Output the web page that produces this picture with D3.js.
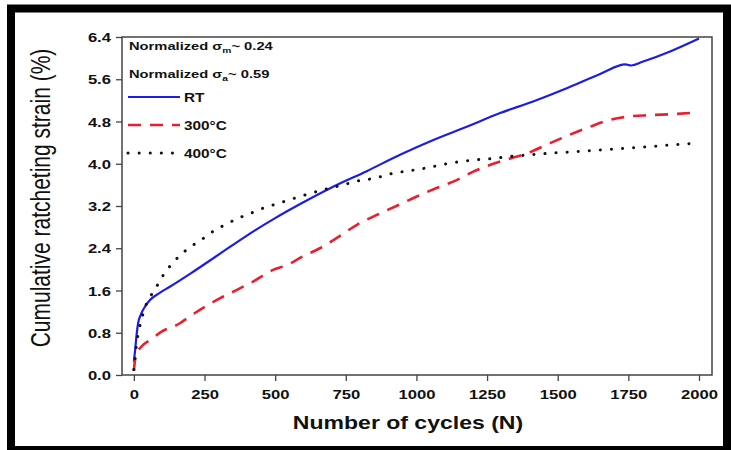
<!DOCTYPE html>
<html lang="en">
  <head>
    <meta charset="UTF-8" />
    <title>Cumulative ratcheting strain</title>
    <script src="https://d3js.org/d3.v7.min.js"></script>
    <style>
      body {
        margin: 0;
        background: #fff;
      }
      text {
        font-family: 'Liberation Sans', Arial, sans-serif;
      }
    </style>
  </head>
  <body>
    <div id="chart"></div>
    <script>
      // values: [cycles, strain %]
      const rtData = [
        [0, 0.25], [5, 0.5], [10, 0.78], [15, 0.98], [25, 1.15], [40, 1.3],
        [57, 1.42], [90, 1.55], [127, 1.67], [200, 1.92], [300, 2.28],
        [400, 2.64], [500, 2.97], [600, 3.27], [700, 3.55], [824, 3.86],
        [942, 4.17], [1060, 4.45], [1178, 4.7], [1296, 4.96], [1413, 5.18],
        [1532, 5.43], [1650, 5.7], [1740, 5.88], [1760, 5.86], [1800, 5.93],
        [1900, 6.13], [2000, 6.37],
      ];
      const t300Data = [
        [0, 0.08], [4, 0.28], [12, 0.42], [27, 0.54], [57, 0.66], [98, 0.82],
        [163, 0.98], [187, 1.07], [263, 1.33], [304, 1.45], [375, 1.64],
        [422, 1.77], [493, 1.99], [541, 2.08], [600, 2.25], [658, 2.4],
        [717, 2.59], [788, 2.84], [859, 3.03], [929, 3.2], [1001, 3.38],
        [1071, 3.54], [1142, 3.69], [1201, 3.85], [1272, 4.0], [1320, 4.08],
        [1402, 4.22], [1473, 4.39], [1543, 4.55], [1614, 4.7], [1685, 4.83],
        [1744, 4.89], [1827, 4.92], [1909, 4.94], [1991, 4.97],
      ];
      const t400Data = [
        [0, 0.1], [10, 0.6], [20, 0.9], [33, 1.17], [80, 1.67], [104, 1.89],
        [139, 2.13], [175, 2.32], [210, 2.46], [239, 2.56], [269, 2.68],
        [310, 2.81], [375, 2.98], [417, 3.07], [458, 3.16], [499, 3.23],
        [541, 3.3], [576, 3.36], [694, 3.54], [741, 3.6], [788, 3.67],
        [835, 3.71], [877, 3.76], [918, 3.82], [953, 3.85], [989, 3.88],
        [1024, 3.91], [1071, 3.96], [1107, 4.0], [1154, 4.04], [1201, 4.07],
        [1272, 4.1], [1319, 4.13], [1402, 4.17], [1473, 4.2], [1567, 4.23],
        [1650, 4.26], [1732, 4.29], [1815, 4.32], [1909, 4.36], [1991, 4.39],
      ];
      const xTicks = [0, 250, 500, 750, 1000, 1250, 1500, 1750, 2000];
      const yTicks = [0, 0.8, 1.6, 2.4, 3.2, 4.0, 4.8, 5.6, 6.4];
      const seriesNames = ['RT', '300°C', '400°C'];

      const W = 731;
      const H = 450;
      const sx = 1.28; // the picture is stretched sideways

      const svg = d3
        .select('#chart')
        .append('svg')
        .attr('width', W)
        .attr('height', H);

      svg.append('rect').attr('width', W).attr('height', H).attr('fill', '#fff');

      // thick black frame
      svg
        .append('rect')
        .attr('x', 11)
        .attr('y', 8.5)
        .attr('width', 716)
        .attr('height', 441.5)
        .attr('fill', 'none')
        .attr('stroke', '#000')
        .attr('stroke-width', 8);

      const x = d3.scaleLinear().domain([-42, 2046]).range([122, 712]);
      const y = d3.scaleLinear().domain([0, 6.4]).range([375, 37]);

      function label(str, px, py, size, weight, anchor) {
        return svg
          .append('text')
          .attr('transform', `translate(${px},${py}) scale(${sx},1)`)
          .attr('text-anchor', anchor || 'start')
          .attr('font-size', size)
          .attr('font-weight', weight || 'bold')
          .attr('fill', '#111')
          .text(str);
      }

      // axes
      const xAxis = svg
        .append('g')
        .attr('transform', `translate(0,${y(0)})`)
        .call(
          d3
            .axisBottom(x)
            .tickValues(xTicks)
            .tickFormat(d3.format('d'))
            .tickSize(6),
        );
      xAxis.select('.domain').remove();
      xAxis
        .selectAll('.tick line')
        .attr('stroke', '#444')
        .attr('stroke-width', 1.3);
      xAxis
        .selectAll('.tick text')
        .attr('y', 0)
        .attr('dy', 0)
        .attr('transform', `translate(0,24) scale(${sx},1)`)
        .attr('font-size', 13)
        .attr('font-weight', 'bold')
        .attr('fill', '#111')
        .attr('font-family', 'Liberation Sans, Arial, sans-serif');

      const yAxis = svg
        .append('g')
        .attr('transform', `translate(${x.range()[0]},0)`)
        .call(
          d3
            .axisLeft(y)
            .tickValues(yTicks)
            .tickFormat(d3.format('.1f'))
            .tickSize(6),
        );
      yAxis.select('.domain').remove();
      yAxis
        .selectAll('.tick line')
        .attr('stroke', '#444')
        .attr('stroke-width', 1.3);
      yAxis
        .selectAll('.tick text')
        .attr('x', 0)
        .attr('dy', '0.36em')
        .attr('transform', `translate(-11,0) scale(${sx},1)`)
        .attr('font-size', 13)
        .attr('font-weight', 'bold')
        .attr('fill', '#111')
        .attr('font-family', 'Liberation Sans, Arial, sans-serif');

      // curves
      const line = d3
        .line()
        .x((d) => x(d[0]))
        .y((d) => y(d[1]))
        .curve(d3.curveMonotoneX);

      const styles = [
        { color: '#1c1ce6', width: 2.2, dash: null, cap: 'butt' },
        { color: '#e8202e', width: 2.6, dash: '13 9', cap: 'butt' },
        { color: '#111', width: 3, dash: '0.1 11', cap: 'round' },
      ];
      const allData = [rtData, t300Data, t400Data];

      allData.forEach(function (data, i) {
        const s = styles[i];
        svg
          .append('path')
          .datum(data)
          .attr('d', line)
          .attr('fill', 'none')
          .attr('stroke', s.color)
          .attr('stroke-width', s.width)
          .attr('stroke-dasharray', s.dash)
          .attr('stroke-linecap', s.cap);
      });

      // plot box
      svg
        .append('rect')
        .attr('x', x.range()[0])
        .attr('y', y.range()[1])
        .attr('width', x.range()[1] - x.range()[0])
        .attr('height', y.range()[0] - y.range()[1])
        .attr('fill', 'none')
        .attr('stroke', '#444')
        .attr('stroke-width', 1.5);

      // legend
      const note1 = label('Normalized σ', 129, 50, 11.5);
      note1.append('tspan').attr('font-size', 8).attr('dy', 3).text('m');
      note1.append('tspan').attr('dy', -3).text('~ 0.24');
      const note2 = label('Normalized σ', 129, 78, 11.5);
      note2.append('tspan').attr('font-size', 8).attr('dy', 3).text('a');
      note2.append('tspan').attr('dy', -3).text('~ 0.59');

      const legY = [97, 125, 153];
      seriesNames.forEach(function (name, i) {
        const s = styles[i];
        svg
          .append('line')
          .attr('x1', 128)
          .attr('x2', 180)
          .attr('y1', legY[i])
          .attr('y2', legY[i])
          .attr('stroke', s.color)
          .attr('stroke-width', s.width)
          .attr('stroke-dasharray', s.dash)
          .attr('stroke-linecap', s.cap);
        label(name, 184, legY[i] + 5, 12);
      });

      // axis titles
      label('Number of cycles (N)', 408, 429, 18, 'bold', 'middle');
      svg
        .append('text')
        .attr('transform', `translate(50,198) scale(${sx},1) rotate(-90)`)
        .attr('text-anchor', 'middle')
        .attr('font-size', 21)
        .attr('fill', '#111')
        .text('Cumulative ratcheting strain (%)');
    </script>
  </body>
</html>
